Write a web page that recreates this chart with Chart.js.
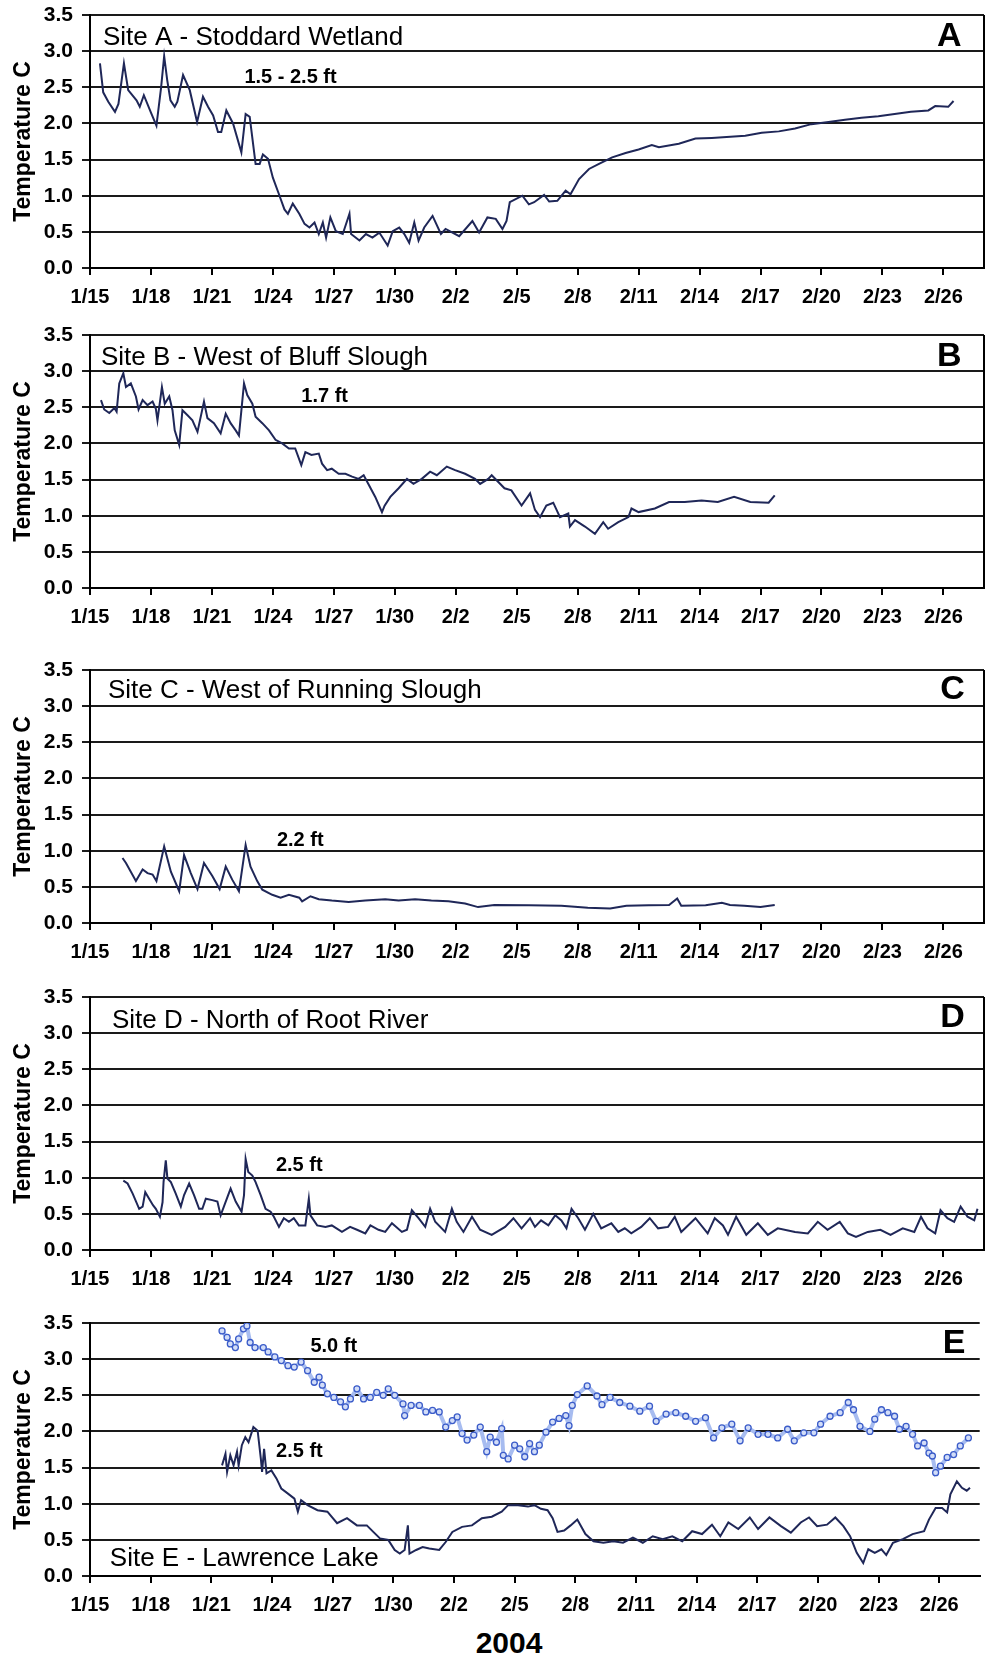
<!DOCTYPE html>
<html>
<head>
<meta charset="utf-8">
<script src="https://cdn.jsdelivr.net/npm/chart.js@4.4.1/dist/chart.umd.min.js"></script>
<style>
html,body{margin:0;padding:0;background:#fff;}
#page{position:relative;width:985px;height:1657px;overflow:hidden;background:#fff;}
.panel{position:absolute;left:0;width:985px;height:313px;}
#year{position:absolute;left:459px;width:100px;top:1628px;text-align:center;font:bold 30px "Liberation Sans",Arial,sans-serif;line-height:30px;color:#000;}
</style>
</head>
<body>
<div id="page">
  <div class="panel" id="pA" style="top:3px"><canvas id="cA" width="985" height="313"></canvas></div>
  <div class="panel" id="pB" style="top:323px"><canvas id="cB" width="985" height="313"></canvas></div>
  <div class="panel" id="pC" style="top:658px"><canvas id="cC" width="985" height="313"></canvas></div>
  <div class="panel" id="pD" style="top:985px"><canvas id="cD" width="985" height="313"></canvas></div>
  <div class="panel" id="pE" style="top:1311px"><canvas id="cE" width="985" height="313"></canvas></div>
  <div id="year">2004</div>
</div>
<script>
// ---------- DATA (day offset from 1/15, temperature °C) ----------
const tickLabels = ['1/15','1/18','1/21','1/24','1/27','1/30','2/2','2/5','2/8','2/11','2/14','2/17','2/20','2/23','2/26'];
const yTickValues = [0,0.5,1,1.5,2,2.5,3,3.5];
const siteNames = ['Site A - Stoddard Wetland','Site B - West of Bluff Slough','Site C - West of Running Slough','Site D - North of Root River','Site E - Lawrence Lake'];
const panelLetters = ['A','B','C','D','E'];
const depthA = ['1.5 - 2.5 ft'];
const depthB = ['1.7 ft'];
const depthC = ['2.2 ft'];
const depthD = ['2.5 ft'];
const depthE = ['5.0 ft','2.5 ft'];

const siteA = [[0.49,2.83],[0.65,2.43],[0.9,2.3],[1.23,2.16],[1.4,2.27],[1.67,2.83],[1.88,2.46],[2.29,2.32],[2.45,2.23],[2.65,2.39],[3.0,2.15],[3.27,1.97],[3.5,2.5],[3.65,2.93],[3.8,2.6],[3.96,2.32],[4.17,2.23],[4.3,2.3],[4.58,2.67],[4.91,2.46],[5.27,2.02],[5.56,2.37],[5.81,2.23],[6.06,2.11],[6.3,1.88],[6.46,1.88],[6.71,2.18],[7.04,2.0],[7.45,1.6],[7.66,2.13],[7.86,2.09],[8.15,1.44],[8.35,1.44],[8.51,1.57],[8.76,1.51],[9.0,1.25],[9.3,1.02],[9.57,0.81],[9.74,0.75],[9.98,0.89],[10.3,0.75],[10.56,0.61],[10.8,0.56],[11.05,0.63],[11.26,0.47],[11.46,0.63],[11.62,0.42],[11.83,0.7],[12.1,0.51],[12.44,0.47],[12.77,0.75],[12.85,0.47],[13.26,0.38],[13.58,0.47],[13.9,0.42],[14.24,0.49],[14.65,0.31],[14.9,0.51],[15.22,0.56],[15.47,0.47],[15.71,0.35],[15.96,0.63],[16.17,0.38],[16.45,0.56],[16.86,0.72],[17.27,0.47],[17.5,0.54],[18.17,0.44],[18.82,0.65],[19.15,0.49],[19.56,0.7],[19.97,0.68],[20.3,0.54],[20.5,0.65],[20.66,0.91],[21.28,1.0],[21.6,0.88],[21.86,0.91],[22.35,1.01],[22.6,0.92],[23.0,0.93],[23.41,1.07],[23.65,1.02],[24.07,1.23],[24.56,1.37],[25.05,1.44],[25.7,1.53],[26.36,1.59],[27.0,1.64],[27.65,1.70],[28.0,1.67],[28.98,1.72],[29.8,1.79],[30.6,1.80],[32.25,1.83],[33.06,1.87],[33.9,1.89],[34.7,1.93],[35.5,1.99],[36.35,2.02],[37.16,2.05],[37.97,2.08],[38.8,2.10],[39.6,2.13],[40.4,2.16],[41.26,2.18],[41.6,2.24],[42.24,2.23],[42.5,2.31]];

const siteB = [[0.54,2.6],[0.7,2.47],[0.95,2.42],[1.2,2.49],[1.31,2.44],[1.44,2.83],[1.64,2.97],[1.77,2.78],[2.01,2.83],[2.26,2.65],[2.39,2.47],[2.59,2.6],[2.83,2.53],[3.08,2.58],[3.24,2.48],[3.32,2.32],[3.54,2.78],[3.68,2.55],[3.9,2.65],[4.06,2.46],[4.17,2.18],[4.39,1.98],[4.55,2.46],[4.8,2.39],[5.04,2.32],[5.29,2.16],[5.61,2.58],[5.78,2.35],[6.1,2.28],[6.43,2.14],[6.68,2.41],[6.92,2.28],[7.17,2.18],[7.33,2.11],[7.58,2.83],[7.74,2.67],[7.99,2.55],[8.15,2.37],[8.48,2.28],[8.81,2.18],[9.13,2.05],[9.46,2.0],[9.79,1.93],[10.1,1.93],[10.4,1.70],[10.6,1.88],[10.9,1.84],[11.26,1.86],[11.42,1.72],[11.67,1.63],[11.9,1.65],[12.24,1.58],[12.57,1.58],[12.9,1.54],[13.22,1.51],[13.47,1.56],[13.7,1.44],[14.04,1.26],[14.37,1.05],[14.5,1.14],[14.78,1.26],[15.19,1.38],[15.6,1.51],[15.92,1.44],[16.33,1.51],[16.74,1.61],[17.07,1.56],[17.56,1.68],[17.97,1.63],[18.46,1.58],[18.95,1.51],[19.2,1.44],[19.6,1.51],[19.77,1.56],[20.4,1.38],[20.74,1.35],[21.24,1.14],[21.66,1.31],[21.9,1.08],[22.15,0.98],[22.46,1.14],[22.8,1.18],[23.13,0.98],[23.54,1.03],[23.62,0.85],[23.87,0.94],[24.36,0.85],[24.85,0.75],[25.26,0.91],[25.5,0.82],[26.0,0.91],[26.5,0.98],[26.65,1.1],[27.0,1.05],[27.8,1.1],[28.5,1.19],[29.27,1.19],[30.1,1.21],[30.9,1.19],[31.7,1.26],[32.5,1.19],[33.4,1.18],[33.7,1.28]];

const siteC = [[1.6,0.9],[1.77,0.83],[2.26,0.58],[2.59,0.74],[2.83,0.69],[3.08,0.67],[3.27,0.58],[3.65,1.06],[3.98,0.71],[4.39,0.44],[4.63,0.94],[4.96,0.69],[5.29,0.47],[5.61,0.83],[6.02,0.65],[6.38,0.47],[6.68,0.78],[7.0,0.6],[7.33,0.44],[7.66,1.08],[7.9,0.78],[8.23,0.58],[8.48,0.46],[8.97,0.39],[9.38,0.35],[9.79,0.39],[10.3,0.35],[10.44,0.3],[10.85,0.37],[11.26,0.33],[11.9,0.31],[12.73,0.29],[13.55,0.31],[14.53,0.33],[15.19,0.31],[16.0,0.33],[16.8,0.31],[17.64,0.3],[18.46,0.27],[19.1,0.22],[19.9,0.25],[21.6,0.245],[23.2,0.24],[24.5,0.21],[25.6,0.2],[26.4,0.24],[27.5,0.245],[28.5,0.25],[28.9,0.34],[29.1,0.24],[30.3,0.245],[31.1,0.28],[31.5,0.25],[32.2,0.24],[33.0,0.22],[33.7,0.25]];

const siteD = [[1.64,0.96],[1.85,0.92],[2.1,0.78],[2.42,0.57],[2.59,0.6],[2.72,0.8],[2.91,0.71],[3.1,0.62],[3.24,0.57],[3.44,0.46],[3.57,0.66],[3.62,0.94],[3.73,1.24],[3.81,0.99],[3.98,0.94],[4.22,0.78],[4.47,0.6],[4.63,0.76],[4.88,0.92],[5.12,0.76],[5.37,0.57],[5.53,0.57],[5.7,0.71],[6.02,0.69],[6.27,0.67],[6.43,0.48],[6.68,0.67],[6.92,0.85],[7.17,0.67],[7.46,0.53],[7.58,0.76],[7.66,1.26],[7.79,1.08],[7.99,1.03],[8.15,0.94],[8.4,0.76],[8.64,0.57],[8.89,0.53],[9.05,0.46],[9.3,0.32],[9.54,0.44],[9.79,0.39],[10.03,0.44],[10.28,0.34],[10.6,0.34],[10.77,0.71],[10.85,0.48],[11.18,0.34],[11.59,0.32],[11.9,0.34],[12.4,0.25],[12.8,0.32],[13.14,0.28],[13.55,0.23],[13.8,0.34],[14.2,0.28],[14.53,0.25],[14.86,0.37],[15.35,0.25],[15.6,0.28],[15.84,0.55],[16.17,0.44],[16.5,0.32],[16.74,0.57],[16.99,0.39],[17.48,0.25],[17.81,0.57],[18.05,0.39],[18.38,0.25],[18.8,0.46],[19.2,0.28],[19.77,0.21],[20.43,0.32],[20.84,0.44],[21.24,0.30],[21.66,0.44],[21.9,0.32],[22.2,0.41],[22.56,0.34],[22.9,0.48],[23.2,0.41],[23.45,0.3],[23.7,0.57],[24.03,0.44],[24.36,0.28],[24.77,0.5],[25.16,0.3],[25.66,0.37],[26.0,0.25],[26.32,0.3],[26.64,0.23],[27.13,0.32],[27.55,0.44],[27.96,0.3],[28.45,0.32],[28.78,0.46],[29.1,0.25],[29.43,0.34],[29.8,0.44],[30.4,0.23],[30.75,0.44],[31.15,0.34],[31.4,0.21],[31.8,0.46],[32.3,0.21],[32.87,0.37],[33.36,0.21],[33.85,0.3],[34.7,0.25],[35.33,0.23],[35.82,0.39],[36.3,0.28],[36.9,0.39],[37.3,0.23],[37.7,0.18],[38.28,0.25],[38.9,0.28],[39.4,0.21],[40.0,0.3],[40.57,0.25],[40.9,0.46],[41.22,0.3],[41.6,0.23],[41.86,0.55],[42.2,0.44],[42.53,0.39],[42.85,0.6],[43.19,0.46],[43.52,0.41],[43.68,0.57]];

const siteE5ft = [[6.53,3.39],[6.78,3.3],[6.94,3.21],[7.19,3.16],[7.35,3.28],[7.59,3.42],[7.76,3.46],[7.92,3.23],[8.16,3.16],[8.57,3.16],[8.81,3.1],[9.14,3.03],[9.46,2.98],[9.79,2.91],[10.1,2.89],[10.44,2.96],[10.76,2.84],[11.09,2.68],[11.33,2.75],[11.49,2.64],[11.74,2.52],[12.06,2.47],[12.39,2.41],[12.63,2.34],[12.88,2.45],[13.2,2.59],[13.53,2.45],[13.86,2.47],[14.18,2.54],[14.5,2.5],[14.75,2.59],[15.07,2.5],[15.48,2.38],[15.56,2.22],[15.88,2.36],[16.29,2.36],[16.61,2.27],[16.94,2.29],[17.27,2.27],[17.59,2.06],[17.92,2.15],[18.16,2.2],[18.4,1.97],[18.65,1.88],[18.98,1.95],[19.3,2.06],[19.62,1.72],[19.79,1.92],[20.1,1.85],[20.36,2.04],[20.44,1.67],[20.68,1.62],[21.0,1.81],[21.25,1.76],[21.5,1.65],[21.74,1.83],[21.98,1.72],[22.22,1.81],[22.55,1.99],[22.88,2.13],[23.2,2.18],[23.53,2.22],[23.69,2.08],[23.85,2.36],[24.1,2.51],[24.59,2.63],[25.07,2.49],[25.32,2.37],[25.72,2.47],[26.2,2.4],[26.7,2.35],[27.19,2.28],[27.67,2.35],[28.0,2.14],[28.49,2.24],[28.97,2.26],[29.46,2.21],[29.95,2.14],[30.44,2.19],[30.84,1.91],[31.25,2.05],[31.74,2.1],[32.15,1.87],[32.55,2.05],[33.04,1.96],[33.53,1.96],[34.01,1.91],[34.5,2.03],[34.83,1.87],[35.3,1.98],[35.8,1.98],[36.13,2.1],[36.6,2.21],[37.1,2.26],[37.5,2.4],[37.76,2.3],[38.08,2.07],[38.57,2.0],[38.81,2.17],[39.14,2.3],[39.46,2.26],[39.79,2.21],[40.03,2.03],[40.36,2.07],[40.68,1.96],[40.93,1.8],[41.25,1.84],[41.49,1.7],[41.66,1.66],[41.82,1.43],[42.06,1.52],[42.39,1.64],[42.71,1.68],[43.04,1.8],[43.44,1.91]];

const siteE25ft = [[6.53,1.53],[6.7,1.69],[6.78,1.44],[6.94,1.67],[7.1,1.53],[7.27,1.72],[7.35,1.53],[7.51,1.81],[7.68,1.92],[7.84,1.85],[8.08,2.06],[8.29,2.01],[8.45,1.62],[8.51,1.44],[8.61,1.76],[8.73,1.42],[8.97,1.46],[9.22,1.35],[9.46,1.21],[9.79,1.14],[10.11,1.07],[10.28,0.89],[10.44,1.05],[10.76,0.98],[11.25,0.91],[11.74,0.89],[12.22,0.73],[12.71,0.8],[13.2,0.7],[13.69,0.7],[14.01,0.61],[14.34,0.52],[14.75,0.5],[15.07,0.36],[15.32,0.31],[15.56,0.36],[15.72,0.7],[15.8,0.31],[16.13,0.36],[16.45,0.4],[16.78,0.38],[17.27,0.36],[17.59,0.47],[17.92,0.61],[18.4,0.68],[18.89,0.7],[19.38,0.8],[19.87,0.82],[20.36,0.89],[20.68,0.98],[21.17,0.98],[21.66,0.96],[21.98,0.98],[22.3,0.93],[22.63,0.91],[22.88,0.8],[23.12,0.61],[23.45,0.63],[23.77,0.7],[24.1,0.78],[24.5,0.58],[24.9,0.48],[25.39,0.46],[25.88,0.48],[26.36,0.46],[26.85,0.53],[27.34,0.46],[27.83,0.55],[28.32,0.51],[28.8,0.55],[29.29,0.48],[29.78,0.62],[30.27,0.58],[30.76,0.71],[31.17,0.55],[31.57,0.74],[32.06,0.65],[32.63,0.81],[33.04,0.65],[33.6,0.81],[34.17,0.69],[34.66,0.6],[35.15,0.74],[35.56,0.81],[35.96,0.69],[36.45,0.71],[36.86,0.81],[37.26,0.69],[37.59,0.55],[37.92,0.32],[38.24,0.18],[38.49,0.37],[38.81,0.32],[39.14,0.37],[39.38,0.29],[39.71,0.46],[40.2,0.51],[40.68,0.58],[41.25,0.62],[41.49,0.78],[41.82,0.94],[42.14,0.94],[42.39,0.88],[42.55,1.13],[42.87,1.31],[43.12,1.22],[43.36,1.18],[43.52,1.22]];

// ---------- RENDERING ----------
const FONT = '"Liberation Sans", Arial, sans-serif';
Chart.defaults.font.family = FONT;
Chart.defaults.color = '#000';
const tickDays = tickLabels.map((_, i) => i * 3);
const LINE = '#1f2758';

const toXY = arr => arr.map(p => ({x: p[0], y: p[1]}));

const panelText = {
  id: 'panelText',
  afterDatasetsDraw(chart, args, opts) {
    const ctx = chart.ctx, xs = chart.scales.x, ys = chart.scales.y, ca = chart.chartArea;
    ctx.save();
    ctx.fillStyle = '#000';
    ctx.textBaseline = 'alphabetic';
    (opts.items || []).forEach(it => {
      ctx.font = it.font;
      ctx.textAlign = it.align || 'left';
      ctx.fillText(it.text, xs.getPixelForValue(it.x), ys.getPixelForValue(it.y));
    });
    if (opts.rightBorder) {
      ctx.strokeStyle = '#000'; ctx.lineWidth = 2;
      ctx.beginPath(); ctx.moveTo(ca.right, ca.top); ctx.lineTo(ca.right, ca.bottom); ctx.stroke();
    }
    ctx.restore();
  }
};

function lineDs(arr) {
  return {data: toXY(arr), borderColor: LINE, borderWidth: 2, pointRadius: 0, tension: 0, fill: false};
}

function makeChart(id, datasets, items, rightBorder) {
  return new Chart(document.getElementById(id), {
    type: 'line',
    data: {datasets},
    plugins: [panelText],
    options: {
      responsive: false, maintainAspectRatio: false, animation: false,
      layout: {padding: {top: 12, right: 1, left: 0, bottom: 0}},
      plugins: {legend: {display: false}, tooltip: {enabled: false}, panelText: {items, rightBorder}},
      scales: {
        x: {
          type: 'linear', min: 0, max: 44,
          afterBuildTicks: s => { s.ticks = tickDays.map(v => ({value: v})); },
          afterFit: s => { s.height = 48; s.paddingLeft = 0; s.paddingRight = 0; },
          grid: {drawOnChartArea: false, drawTicks: true, tickLength: 7, color: '#000', lineWidth: 2},
          border: {display: true, color: '#000', width: 2},
          ticks: {font: {size: 20, weight: 'bold'}, color: '#000', padding: 10, maxRotation: 0, autoSkip: false,
                  callback: v => tickLabels[tickDays.indexOf(v)]}
        },
        y: {
          type: 'linear', min: 0, max: 3.5,
          afterBuildTicks: s => { s.ticks = yTickValues.map(v => ({value: v})); },
          afterFit: s => { s.width = 90; s.paddingTop = 0; s.paddingBottom = 0; },
          grid: {color: '#1a1a1a', lineWidth: 2, drawTicks: true, tickLength: 8},
          border: {display: true, color: '#000', width: 2},
          ticks: {font: {size: 21, weight: 'bold'}, color: '#000', padding: 9, callback: v => v.toFixed(1)},
          title: {display: true, text: 'Temperature C', color: '#000', font: {size: 23, weight: 'bold'}, padding: {top: 10, bottom: 0}}
        }
      }
    }
  });
}

const siteFont = '26px ' + FONT;
const letterFont = 'bold 34px ' + FONT;
const depthFont = 'bold 20px ' + FONT;

const charts = [];
charts.push(['pA', 15, makeChart('cA', [lineDs(siteA)], [
  {text: siteNames[0], x: 0.64, y: 3.085, font: siteFont},
  {text: panelLetters[0], x: 42.9, y: 3.07, font: letterFont, align: 'right'},
  {text: depthA[0], x: 7.6, y: 2.56, font: depthFont}
], true)]);

charts.push(['pB', 335, makeChart('cB', [lineDs(siteB)], [
  {text: siteNames[1], x: 0.54, y: 3.085, font: siteFont},
  {text: panelLetters[1], x: 42.9, y: 3.07, font: letterFont, align: 'right'},
  {text: depthB[0], x: 10.4, y: 2.58, font: depthFont}
], true)]);

charts.push(['pC', 670, makeChart('cC', [lineDs(siteC)], [
  {text: siteNames[2], x: 0.88, y: 3.11, font: siteFont},
  {text: panelLetters[2], x: 43.05, y: 3.1, font: letterFont, align: 'right'},
  {text: depthC[0], x: 9.2, y: 1.06, font: depthFont}
], true)]);

charts.push(['pD', 997, makeChart('cD', [lineDs(siteD)], [
  {text: siteNames[3], x: 1.08, y: 3.07, font: siteFont},
  {text: panelLetters[3], x: 43.05, y: 3.08, font: letterFont, align: 'right'},
  {text: depthD[0], x: 9.15, y: 1.09, font: depthFont}
], true)]);

charts.push(['pE', 1323, makeChart('cE', [
  {data: toXY(siteE5ft), borderColor: '#a7bcf0', borderWidth: 4, showLine: true, tension: 0,
   pointRadius: 3, pointBorderWidth: 1.3, pointBorderColor: '#3b5cc9', pointBackgroundColor: '#d2ddf8', fill: false},
  lineDs(siteE25ft)
], [
  {text: siteNames[4], x: 0.98, y: 0.14, font: siteFont},
  {text: panelLetters[4], x: 43.3, y: 3.09, font: letterFont, align: 'right'},
  {text: depthE[0], x: 10.9, y: 3.10, font: depthFont},
  {text: depthE[1], x: 9.2, y: 1.64, font: depthFont}
], false)]);

// align each panel so its plot top sits where the reference plot top is
charts.forEach(([pid, plotTop, ch]) => {
  document.getElementById(pid).style.top = (plotTop - ch.chartArea.top) + 'px';
});
</script>
</body>
</html>
